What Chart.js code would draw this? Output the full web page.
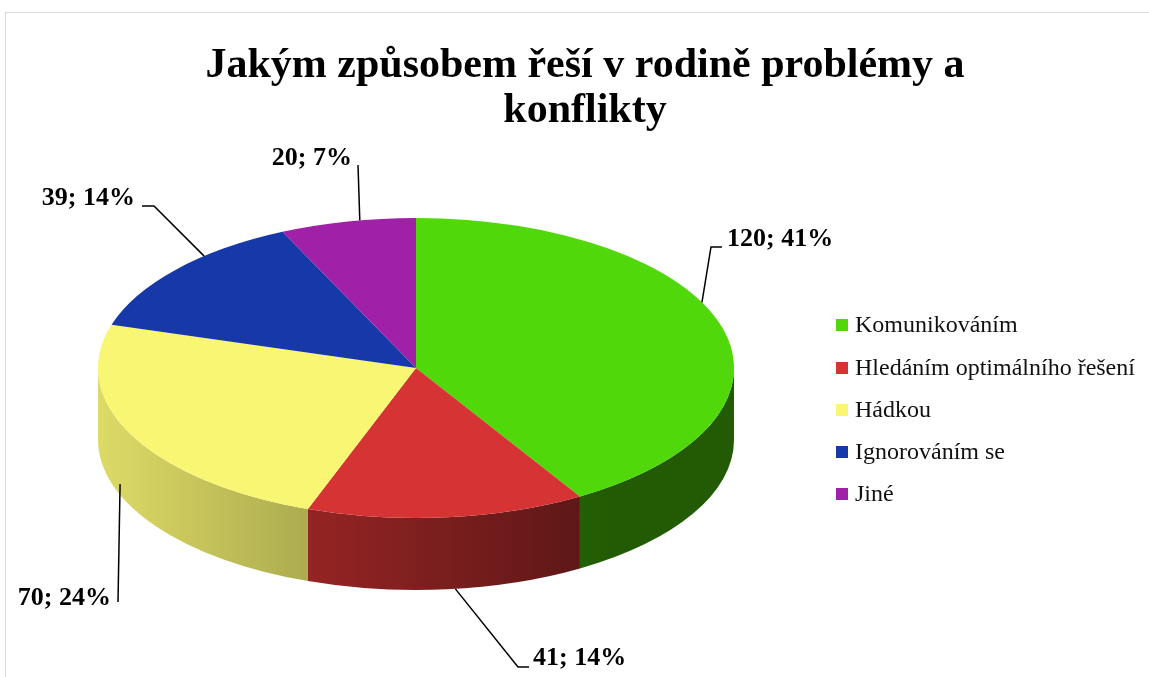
<!DOCTYPE html>
<html>
<head>
<meta charset="utf-8">
<script src="https://cdn.jsdelivr.net/npm/chart.js@4"></script>
<style>
  html, body { margin: 0; padding: 0; background: #fff; }
  canvas { display: block; }
</style>
</head>
<body>
<canvas id="chart" width="1149" height="677"></canvas>
<script>
// data
const titleLines = ['Jakým způsobem řeší v rodině problémy a', 'konflikty'];
const categories = ['Komunikováním', 'Hledáním optimálního řešení', 'Hádkou', 'Ignorováním se', 'Jiné'];
const counts     = [120, 41, 70, 39, 20];
const percents   = [41, 14, 24, 14, 7];

// colours
const topColors  = ['#50d80a', '#d63434', '#f8f672', '#1638a8', '#a020a8'];

// ---- styling / layout ----
const FONT = '"Liberation Serif", "Times New Roman", serif';
const PIE  = { cx: 416, cy: 368, rx: 318, ry: 150, depth: 72 };

// where each leader line leaves its slice (fraction of slice angle, fraction of wall depth)
const leaderAt = [[0.43, 0], [0.47, 1], [0.56, 0.85], [0.65, 0], [0.59, 0]];
// remaining leader points and label placement
const leaderPts = [
  [[711, 247], [722, 247]],
  [[518, 667], [529, 667]],
  [[118, 602]],
  [[154, 206], [142, 206]],
  [[358, 165]]
];
const labelAt = [[727, 239, 'left'], [533, 658, 'left'], [111, 598, 'right'], [135, 198, 'right'], [352, 158, 'right']];

// wall shade: lit from the left, darker to the right
function shade(hex, x) {
  const f = Math.max(0.42, Math.min(0.9, 0.89 - (x - 100) * 0.00093));
  const n = parseInt(hex.slice(1), 16);
  const r = Math.round(((n >> 16) & 255) * f);
  const g = Math.round(((n >> 8) & 255) * f);
  const b = Math.round((n & 255) * f);
  return `rgb(${r},${g},${b})`;
}

const pie3d = {
  id: 'pie3d',
  beforeDatasetsDraw(chart) {
    const ctx  = chart.ctx;
    const arcs = chart.getDatasetMeta(0).data;
    const { x, y, outerRadius: R } = arcs[0];

    // side walls (only the front half is visible)
    arcs.forEach((a, i) => {
      const s = Math.max(a.startAngle, 0);
      const e = Math.min(a.endAngle, Math.PI);
      if (e <= s) return;
      const g = ctx.createLinearGradient(PIE.cx - PIE.rx, 0, PIE.cx + PIE.rx, 0);
      for (let k = 0; k <= 10; k++) {
        g.addColorStop(k / 10, shade(topColors[i], PIE.cx - PIE.rx + (2 * PIE.rx) * k / 10));
      }
      ctx.save();
      ctx.beginPath();
      ctx.ellipse(PIE.cx, PIE.cy, PIE.rx, PIE.ry, 0, s, e, false);
      ctx.ellipse(PIE.cx, PIE.cy + PIE.depth, PIE.rx, PIE.ry, 0, e, s, true);
      ctx.closePath();
      ctx.fillStyle = g;
      ctx.fill();
      ctx.restore();
    });

    // squash the library's pie into the top face
    ctx.save();
    ctx.translate(PIE.cx, PIE.cy);
    ctx.scale(PIE.rx / R, PIE.ry / R);
    ctx.translate(-x, -y);
  },
  afterDatasetsDraw(chart) {
    chart.ctx.restore();
  }
};

const decorations = {
  id: 'decorations',
  beforeDraw(chart) {
    const ctx = chart.ctx;
    ctx.save();
    ctx.fillStyle = '#fff';
    ctx.fillRect(0, 0, chart.width, chart.height);
    ctx.strokeStyle = '#d9d9d9';
    ctx.lineWidth = 1;
    ctx.strokeRect(5.5, 12.5, chart.width + 20, chart.height + 20);
    ctx.restore();
  },
  afterDraw(chart) {
    const ctx  = chart.ctx;
    const arcs = chart.getDatasetMeta(0).data;
    ctx.save();

    // title
    ctx.fillStyle = '#000';
    ctx.textAlign = 'center';
    ctx.textBaseline = 'alphabetic';
    ctx.font = `bold 42px ${FONT}`;
    ctx.fillText(titleLines[0], 585, 77);
    ctx.fillText(titleLines[1], 585, 122);

    // leader lines + data labels
    ctx.strokeStyle = '#000';
    ctx.lineWidth = 1.5;
    ctx.font = `bold 26px ${FONT}`;
    ctx.textBaseline = 'middle';
    arcs.forEach((a, i) => {
      const t = a.startAngle + (a.endAngle - a.startAngle) * leaderAt[i][0];
      const ax = PIE.cx + PIE.rx * Math.cos(t);
      const ay = PIE.cy + PIE.ry * Math.sin(t) + PIE.depth * leaderAt[i][1];
      ctx.beginPath();
      ctx.moveTo(ax, ay);
      leaderPts[i].forEach(p => ctx.lineTo(p[0], p[1]));
      ctx.stroke();

      const [lx, ly, al] = labelAt[i];
      ctx.textAlign = al;
      ctx.fillText(`${counts[i]}; ${percents[i]}%`, lx, ly);
    });

    // legend
    const legendY = [325, 368, 410, 452, 494];
    ctx.font = `24px ${FONT}`;
    ctx.textAlign = 'left';
    categories.forEach((c, i) => {
      ctx.fillStyle = topColors[i];
      ctx.fillRect(836, legendY[i] - 6, 12, 12);
      ctx.fillStyle = '#111';
      ctx.fillText(c, 855, legendY[i] + 1);
    });
    ctx.restore();
  }
};

new Chart(document.getElementById('chart'), {
  type: 'pie',
  data: {
    labels: categories,
    datasets: [{
      data: counts,
      backgroundColor: topColors,
      borderWidth: 0,
      clip: false
    }]
  },
  options: {
    responsive: false,
    animation: false,
    events: [],
    layout: { padding: { top: 150, bottom: 40, left: 100, right: 420 } },
    plugins: {
      legend: { display: false },
      title: { display: false },
      tooltip: { enabled: false }
    }
  },
  plugins: [pie3d, decorations]
});
</script>
</body>
</html>
